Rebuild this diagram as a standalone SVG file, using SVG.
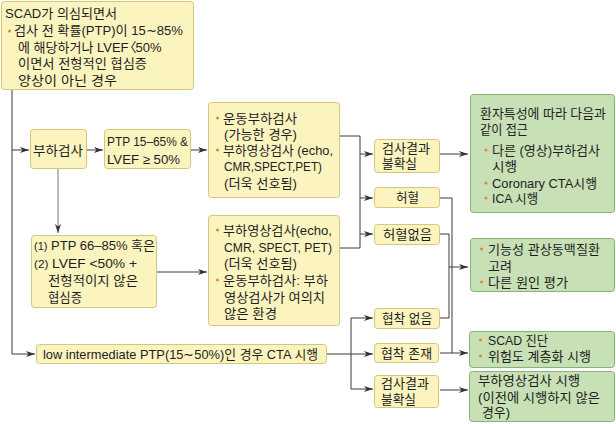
<svg xmlns="http://www.w3.org/2000/svg" width="616" height="424" viewBox="0 0 616 424">
<defs>
<marker id="ah" markerUnits="userSpaceOnUse" markerWidth="10" markerHeight="7" refX="9" refY="3" orient="auto">
<path d="M0,0 L9,3 L0,6 L2.5,3 z" fill="#333"/>
</marker>
<style>
text{font-family:"Liberation Sans","Noto Sans CJK KR",sans-serif;font-size:13px;fill:#1e1e1e}
.y{fill:#FBF4BE;stroke:#D6C67C;stroke-width:1}
.g{fill:#C7E0B5;stroke:#86B472;stroke-width:1}
.c{fill:none;stroke:#3a3a3a;stroke-width:1}
.a{marker-end:url(#ah)}
.d{fill:#E0892C}
.m{text-anchor:middle}
.s{font-size:11px}
</style>
</defs>
<rect width="616" height="424" fill="#fff"/>

<g id="connectors">
<path class="c a" d="M12,90 V354 H35"/>
<path class="c a" d="M12,150 H29"/>
<path class="c a" d="M87,150 H103"/>
<path class="c a" d="M191,150 H207"/>
<path class="c a" d="M58,169 V233" style="stroke:#777"/>
<path class="c a" d="M157,272 H207"/>
<path class="c" d="M340,136 H360 V248 H340"/>
<path class="c a" d="M360,154 H373"/>
<path class="c a" d="M360,198 H373"/>
<path class="c a" d="M360,234 H373"/>
<path class="c a" d="M440,154 H468"/>
<path class="c" d="M440,198 H452 V353"/>
<path class="c a" d="M440,353 H468"/>
<path class="c" d="M440,234 H449 V318 H440"/>
<path class="c a" d="M449,267 H468"/>
<path class="c a" d="M327,354 H373"/>
<path class="c" d="M351,318 V389"/>
<path class="c a" d="M351,318 H373"/>
<path class="c a" d="M351,389 H373"/>
<path class="c a" d="M440,390 H468"/>
</g>

<g id="n-start">
<rect class="y" x="1.5" y="1.5" width="192" height="88" rx="3"/>
<text x="5" y="18" textLength="112" lengthAdjust="spacingAndGlyphs">SCAD가 의심되면서</text>
<circle class="d" cx="9.5" cy="31" r="1.5"/>
<text x="14" y="35" textLength="169" lengthAdjust="spacingAndGlyphs">검사 전 확률(PTP)이 15∼85%</text>
<text x="18" y="51.5">에 해당하거나 LVEF<tspan dx="-5">〈</tspan><tspan dx="-1">50%</tspan></text>
<text x="18" y="68" textLength="129" lengthAdjust="spacingAndGlyphs">이면서 전형적인 협심증</text>
<text x="18" y="84.5" textLength="99" lengthAdjust="spacingAndGlyphs">양상이 아닌 경우</text>
</g>

<g id="n-stress">
<rect class="y" x="30.5" y="129.5" width="56" height="39" rx="3"/>
<text x="33" y="154.5" textLength="50" lengthAdjust="spacingAndGlyphs">부하검사</text>
</g>

<g id="n-ptp1565">
<rect class="y" x="104.5" y="129.5" width="86" height="39" rx="3"/>
<text x="107" y="146" textLength="81" lengthAdjust="spacingAndGlyphs">PTP 15–65% &amp;</text>
<text x="107" y="163.5" textLength="73" lengthAdjust="spacingAndGlyphs">LVEF ≥ 50%</text>
</g>

<g id="n-ptp6685">
<rect class="y" x="31.5" y="235.5" width="125" height="72" rx="3"/>
<text x="34" y="249.5" textLength="121" lengthAdjust="spacingAndGlyphs"><tspan class="s">(1)</tspan> PTP 66–85% 혹은</text>
<text x="34" y="267.5" textLength="103" lengthAdjust="spacingAndGlyphs"><tspan class="s">(2)</tspan> LVEF &lt;50% +</text>
<text x="48" y="284.5" textLength="90" lengthAdjust="spacingAndGlyphs">전형적이지 않은</text>
<text x="48" y="301.5" textLength="34" lengthAdjust="spacingAndGlyphs">협심증</text>
</g>

<g id="n-exercise">
<rect class="y" x="208.5" y="102.5" width="131" height="95" rx="3"/>
<circle class="d" cx="217.5" cy="118" r="1.5"/>
<text x="223" y="122.5" textLength="74" lengthAdjust="spacingAndGlyphs">운동부하검사</text>
<text x="224" y="138.5" textLength="73" lengthAdjust="spacingAndGlyphs">(가능한 경우)</text>
<circle class="d" cx="217.5" cy="150" r="1.5"/>
<text x="223" y="154.5" textLength="110" lengthAdjust="spacingAndGlyphs">부하영상검사 (echo,</text>
<text x="224" y="171" textLength="98" lengthAdjust="spacingAndGlyphs">CMR,SPECT,PET)</text>
<text x="224" y="187.5" textLength="73" lengthAdjust="spacingAndGlyphs">(더욱 선호됨)</text>
</g>

<g id="n-imaging">
<rect class="y" x="208.5" y="215.5" width="131" height="110" rx="3"/>
<circle class="d" cx="217.5" cy="230" r="1.5"/>
<text x="223" y="234.5" textLength="109" lengthAdjust="spacingAndGlyphs">부하영상검사(echo,</text>
<text x="224" y="251.5" textLength="108" lengthAdjust="spacingAndGlyphs">CMR, SPECT, PET)</text>
<text x="224" y="268" textLength="73" lengthAdjust="spacingAndGlyphs">(더욱 선호됨)</text>
<circle class="d" cx="217.5" cy="280" r="1.5"/>
<text x="223" y="284.5" textLength="105" lengthAdjust="spacingAndGlyphs">운동부하검사: 부하</text>
<text x="224" y="301.5" textLength="101" lengthAdjust="spacingAndGlyphs">영상검사가 여의치</text>
<text x="224" y="318" textLength="53" lengthAdjust="spacingAndGlyphs">않은 환경</text>
</g>

<g id="n-low">
<rect class="y" x="36.5" y="344.5" width="290" height="19" rx="3"/>
<text x="43" y="358.5" textLength="275" lengthAdjust="spacingAndGlyphs">low intermediate PTP(15∼50%)인 경우 CTA 시행</text>
</g>

<g id="n-uncertain1">
<rect class="y" x="374.5" y="139.5" width="65" height="33" rx="3"/>
<text x="382" y="152.5" textLength="48" lengthAdjust="spacingAndGlyphs">검사결과</text>
<text x="382" y="168" textLength="35" lengthAdjust="spacingAndGlyphs">불확실</text>
</g>

<g id="n-ischemia">
<rect class="y" x="374.5" y="187.5" width="65" height="20" rx="3"/>
<text x="396" y="202" textLength="23" lengthAdjust="spacingAndGlyphs">허혈</text>
</g>

<g id="n-noischemia">
<rect class="y" x="374.5" y="224.5" width="65" height="20" rx="3"/>
<text x="383" y="239" textLength="49" lengthAdjust="spacingAndGlyphs">허혈없음</text>
</g>

<g id="n-nostenosis">
<rect class="y" x="374.5" y="308.5" width="65" height="20" rx="3"/>
<text x="382" y="323" textLength="50" lengthAdjust="spacingAndGlyphs">협착 없음</text>
</g>

<g id="n-stenosis">
<rect class="y" x="374.5" y="343.5" width="64" height="19" rx="3"/>
<text x="381" y="357.5" textLength="51" lengthAdjust="spacingAndGlyphs">협착 존재</text>
</g>

<g id="n-uncertain2">
<rect class="y" x="374.5" y="375.5" width="64" height="32" rx="3"/>
<text x="381" y="387.5" textLength="48" lengthAdjust="spacingAndGlyphs">검사결과</text>
<text x="381" y="404" textLength="35" lengthAdjust="spacingAndGlyphs">불확실</text>
</g>

<g id="n-approach">
<rect class="g" x="470.5" y="94.5" width="144" height="118" rx="3"/>
<text x="480" y="117.5" textLength="126" lengthAdjust="spacingAndGlyphs">환자특성에 따라 다음과</text>
<text x="480" y="133.5" textLength="48" lengthAdjust="spacingAndGlyphs">같이 접근</text>
<circle class="d" cx="486" cy="150" r="1.5"/>
<text x="492" y="154.5" textLength="108" lengthAdjust="spacingAndGlyphs">다른 (영상)부하검사</text>
<text x="492" y="170.5" textLength="25" lengthAdjust="spacingAndGlyphs">시행</text>
<circle class="d" cx="486" cy="183" r="1.5"/>
<text x="492" y="187.5" textLength="105" lengthAdjust="spacingAndGlyphs">Coronary CTA시행</text>
<circle class="d" cx="486" cy="198" r="1.5"/>
<text x="492" y="202.5" textLength="46" lengthAdjust="spacingAndGlyphs">ICA 시행</text>
</g>

<g id="n-functional">
<rect class="g" x="470.5" y="238.5" width="144" height="53" rx="3"/>
<circle class="d" cx="481.5" cy="249" r="1.5"/>
<text x="488" y="253.5" textLength="112" lengthAdjust="spacingAndGlyphs">기능성 관상동맥질환</text>
<text x="488" y="270.5" textLength="24" lengthAdjust="spacingAndGlyphs">고려</text>
<circle class="d" cx="481.5" cy="282" r="1.5"/>
<text x="488" y="286.5" textLength="80" lengthAdjust="spacingAndGlyphs">다른 원인 평가</text>
</g>

<g id="n-scad">
<rect class="g" x="469.5" y="331.5" width="145" height="36" rx="3"/>
<circle class="d" cx="480.5" cy="340" r="1.5"/>
<text x="488" y="344.5" textLength="60" lengthAdjust="spacingAndGlyphs">SCAD 진단</text>
<circle class="d" cx="480.5" cy="356" r="1.5"/>
<text x="488" y="360.5" textLength="103" lengthAdjust="spacingAndGlyphs">위험도 계층화 시행</text>
</g>

<g id="n-imagingtest">
<rect class="g" x="469.5" y="371.5" width="145" height="50" rx="3"/>
<text x="478" y="384.5" textLength="102" lengthAdjust="spacingAndGlyphs">부하영상검사 시행</text>
<text x="478" y="401.5" textLength="122" lengthAdjust="spacingAndGlyphs">(이전에 시행하지 않은</text>
<text x="482" y="416.5" textLength="28" lengthAdjust="spacingAndGlyphs">경우)</text>
</g>
</svg>
